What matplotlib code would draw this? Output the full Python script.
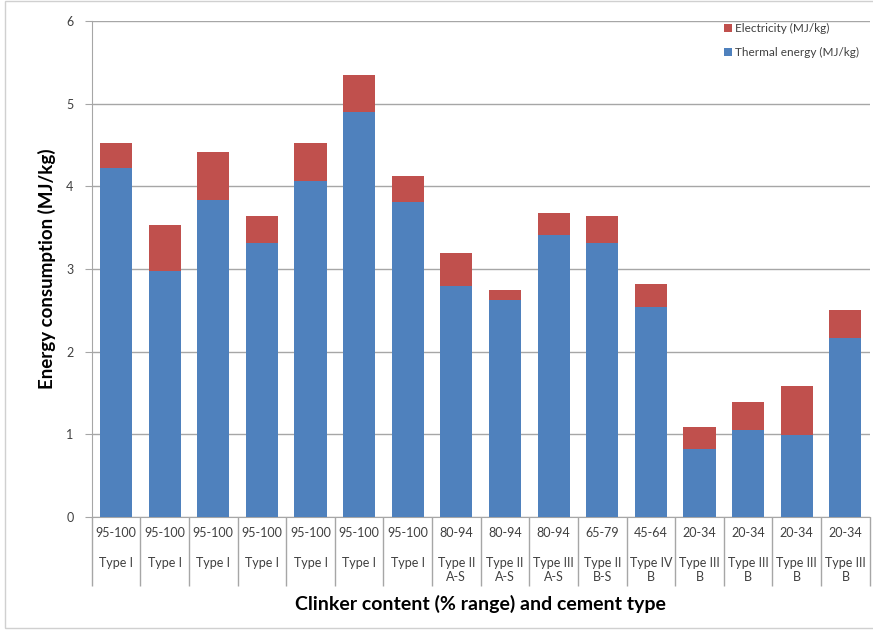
import matplotlib.pyplot as plt
from matplotlib.patches import Rectangle
import numpy as np

plt.rcParams['font.family'] = ['Lato', 'DejaVu Sans']

# Clinker content range, cement type and subtype for each product
clinker_ranges = ['95-100', '95-100', '95-100', '95-100', '95-100', '95-100', '95-100',
                  '80-94', '80-94', '80-94', '65-79', '45-64', '20-34', '20-34', '20-34', '20-34']
cement_types = ['Type I', 'Type I', 'Type I', 'Type I', 'Type I', 'Type I', 'Type I',
                'Type II\nA-S', 'Type II\nA-S', 'Type III\nA-S', 'Type II\nB-S', 'Type IV\nB',
                'Type III\nB', 'Type III\nB', 'Type III\nB', 'Type III\nB']

# Energy consumption in MJ/kg
thermal = [4.22, 2.98, 3.84, 3.32, 4.07, 4.90, 3.81, 2.80, 2.62, 3.41, 3.32, 2.54, 0.82, 1.05, 0.99, 2.16]
electricity = [0.31, 0.55, 0.57, 0.32, 0.46, 0.45, 0.31, 0.39, 0.13, 0.27, 0.32, 0.28, 0.27, 0.34, 0.59, 0.34]

blue = '#4f81bd'
red = '#c0504d'
grid_grey = '#a6a6a6'
text_grey = '#404040'

fig = plt.figure(figsize=(8.73, 6.33), dpi=100)
fig.patches.append(Rectangle((5 / 873, 5 / 633), 0.999, 627 / 633, transform=fig.transFigure,
                             fill=False, edgecolor='#d0d0d0', linewidth=1.0))
ax = fig.add_axes([91.7 / 873, 116 / 633, 778 / 873, 496 / 633])

x = np.arange(len(thermal))
ax.bar(x, thermal, width=0.66, color=blue, label='Thermal energy (MJ/kg)', zorder=3)
ax.bar(x, electricity, width=0.66, bottom=thermal, color=red, label='Electricity (MJ/kg)', zorder=3)

ax.set_xlim(-0.5, len(thermal) - 0.5)
ax.set_ylim(0, 6)
ax.set_yticks(range(7))
ax.yaxis.grid(True, color=grid_grey, linewidth=1.0, zorder=0)
ax.tick_params(axis='y', length=5, color=grid_grey, labelsize=9, labelcolor=text_grey, pad=8)

for side in ['top', 'right']:
    ax.spines[side].set_visible(False)
ax.spines['left'].set_color(grid_grey)
ax.spines['bottom'].set_color(grid_grey)

# Category dividers run down through the two label rows
ax.set_xticks(np.arange(len(thermal) + 1) - 0.5)
ax.set_xticklabels([])
ax.tick_params(axis='x', which='major', length=50, color=grid_grey, width=1.0)
ax.set_xticks(x, minor=True)
ax.set_xticklabels(clinker_ranges, minor=True, fontsize=9, color=text_grey)
ax.tick_params(axis='x', which='minor', length=0, pad=7)

for i, label in enumerate(cement_types):
    ax.annotate(label, xy=(i, 0), xycoords=('data', 'axes fraction'),
                xytext=(0, -29), textcoords='offset points',
                ha='center', va='top', fontsize=9, color=text_grey, linespacing=1.15)

ax.set_xlabel('Clinker content (% range) and cement type', fontsize=14, fontweight='bold')
ax.xaxis.set_label_coords(0.5, -0.158)
ax.set_ylabel('Energy consumption (MJ/kg)', fontsize=13.5, fontweight='bold')
ax.yaxis.set_label_coords(-0.046, 0.5)

handles, labels = ax.get_legend_handles_labels()
ax.legend(handles[::-1], labels[::-1], loc='upper right', bbox_to_anchor=(1.0, 1.017),
          frameon=False, fontsize=8.5, handlelength=0.6, handleheight=0.6,
          handletextpad=0.3, labelspacing=1.1, labelcolor=text_grey)

fig.savefig('out.png', dpi=100)
